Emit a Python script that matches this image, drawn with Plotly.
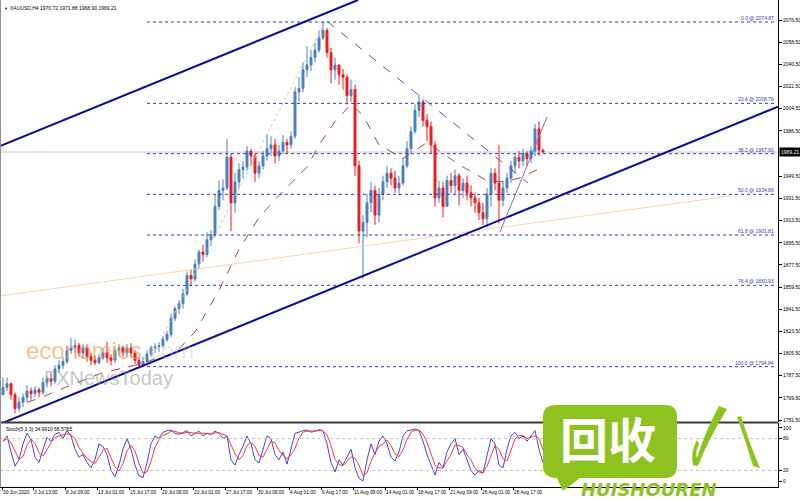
import plotly.graph_objects as go

# ---------------- data ----------------
title_text = "XAUUSD,H4 1970.72 1971.88 1968.90 1969.21"
stoch_text = "Stoch(5,3,3) 34.9910 58.5765"

first_open = 1772
closes = [1778,1781,1772,1761,1766,1770,1775,1773,1776,1774,
          1782,1785,1783,1793,1796,1799,1808,1810,1812,1806,
          1810,1803,1800,1798,1802,1806,1802,1800,1808,1810,
          1806,1810,1806,1800,1796,1799,1805,1810,1811,1812,
          1817,1821,1834,1842,1846,1854,1869,1866,1878,1888,
          1886,1898,1902,1925,1938,1940,1965,1928,1945,1955,
          1957,1970,1966,1952,1958,1966,1972,1975,1966,1970,
          1977,1975,1982,2018,2021,2036,2040,2046,2052,2062,
          2068,2050,2036,2040,2032,2030,2015,2020,1958,1905,
          1912,1928,1938,1918,1935,1945,1952,1948,1940,1944,
          1958,1972,1986,2003,2010,1995,1990,1975,1932,1940,
          1925,1946,1942,1950,1938,1944,1936,1932,1928,1920,
          1915,1935,1952,1944,1930,1940,1948,1958,1965,1962,
          1968,1964,1970,1988,1970.72,1969.21]
highs = [1786,1786,1782,1774,1770,1773,1780,1778,1779,1778,
         1786,1787,1790,1796,1800,1803,1812,1818,1817,1814,
         1813,1813,1806,1804,1805,1810,1815,1805,1811,1813,
         1812,1813,1814,1808,1802,1803,1808,1812,1814,1815,
         1820,1824,1838,1844,1849,1858,1872,1874,1882,1890,
         1894,1904,1906,1935,1946,1947,1980,1968,1952,1960,
         1962,1974,1972,1968,1962,1970,1984,1982,1980,1975,
         1983,1980,1986,2022,2030,2042,2055,2052,2058,2068,
         2075,2070,2054,2046,2040,2037,2032,2028,2024,1962,
         1918,1935,1945,1942,1940,1950,1958,1956,1954,1950,
         1964,1978,1990,2008,2016,2012,2000,1994,1978,1946,
         1945,1950,1952,1955,1952,1948,1950,1942,1936,1932,
         1928,1940,1956,1956,1975,1946,1952,1962,1968,1970,
         1972,1970,1974,1992,1994,1971.88]
lows = [1772,1775,1768,1757,1758,1762,1766,1768,1770,1770,
        1772,1778,1779,1781,1790,1793,1797,1805,1806,1803,
        1801,1799,1796,1796,1797,1800,1798,1796,1798,1804,
        1803,1803,1802,1797,1795,1795,1798,1803,1806,1807,
        1810,1815,1819,1832,1838,1842,1852,1860,1864,1874,
        1880,1884,1893,1900,1922,1930,1938,1905,1920,1940,
        1948,1954,1958,1945,1948,1955,1962,1966,1960,1962,
        1968,1968,1972,1980,2010,2018,2030,2035,2042,2050,
        2060,2046,2025,2028,2024,2020,2008,2010,1950,1895,
        1866,1900,1920,1910,1912,1930,1940,1942,1936,1934,
        1942,1956,1968,1984,1998,1990,1978,1968,1925,1928,
        1916,1925,1936,1935,1926,1932,1930,1925,1920,1914,
        1910,1908,1925,1938,1911,1925,1936,1944,1952,1956,
        1958,1958,1960,1966,1966,1968.90]
opens = [first_open] + closes[:-1]
bars = list(range(len(closes)))

stoch_k = [75,85,55,28,40,70,90,78,45,35,60,82,75,88,92,80,95,85,60,45,
           50,35,25,40,70,65,50,20,8,30,60,80,60,30,10,6,35,70,85,80,
           92,95,96,90,88,92,95,85,90,94,85,90,88,94,90,80,85,40,30,50,
           65,85,70,40,34,60,85,80,50,40,55,32,60,90,92,95,96,92,94,97,
           95,70,35,17,40,30,45,60,25,5,0,40,70,50,75,85,70,45,38,55,
           85,95,96,98,95,75,50,30,11,35,25,55,70,80,50,60,40,20,11,20,
           15,50,80,70,30,25,60,85,92,80,85,75,85,95,60,34.99]
stoch_d = [75,80,72,56,41,46,67,79,71,53,47,59,72,82,85,87,89,87,80,63,
           52,43,37,33,45,58,62,45,26,19,33,57,67,57,33,15,17,37,63,78,
           86,89,94,94,91,90,92,91,90,90,90,90,88,91,91,88,85,68,52,40,
           48,67,73,65,48,45,60,75,72,57,48,42,49,61,81,92,94,94,94,94,
           95,87,67,41,31,29,38,45,43,30,10,15,37,53,65,70,77,67,51,46,
           59,78,92,96,96,89,73,52,30,25,24,38,50,68,67,63,50,40,24,17,
           15,28,48,67,60,42,38,57,79,86,86,80,82,85,80,58.58]

ma_bars = [6, 9, 17, 25, 33, 39, 43, 48, 54, 59, 64, 69, 76, 79, 83, 87, 90, 94, 100, 106, 114, 121, 125, 129, 135]
ma_vals = [1766, 1769, 1780, 1790, 1796, 1802, 1806, 1823, 1857, 1890, 1916, 1934, 1957, 1975, 1994, 2008, 1999, 1975, 1964, 1977, 1959, 1946, 1945, 1948, 1957]

fib_names = ["0.0", "23.6", "38.2", "50.0", "61.8", "76.4", "100.0"]
fib_prices = [2074.87, 2008.76, 1967.90, 1934.86, 1901.81, 1860.93, 1794.84]
fib_anchor_bars = [36, 80.5]          # 100% point bar, 0% point bar
fib_end_bar = 193.25

channel_upper_x = [-0.75, 88.75]
channel_upper_y = [1974.1, 2092.75]
channel_lower_x = [-0.75, 193.75]
channel_lower_y = [1748.2, 2006.1]
desc_line_x = [81, 131.25]
desc_line_y = [2075.4, 1944.1]
rise_line_x = [124.25, 136]
rise_line_y = [1904.3, 1997.7]
long_line_x = [-0.75, 181.75]
long_line_y = [1852.3, 1933.5]

price_ticks = [2076.5, 2058.5, 2040.5, 2022.5, 2004.5, 1986.5, 1949.5, 1931.5, 1913.5,
               1895.5, 1877.5, 1859.5, 1841.5, 1823.5, 1805.5, 1787.5, 1769.5, 1751.5]
stoch_ticks = [100, 80, 20, 0]
stoch_levels = [80, 20]
time_tick_bars = [-0.25, 7.5, 15.5, 23.5, 31.5, 39.5, 47.5, 55.5, 63.5, 71.5, 79.5,
                  87.5, 95.5, 103.5, 111.5, 119.5, 127.5]
time_tick_labels = ["30 Jun 2020", "3 Jul 13:00", "8 Jul 09:00", "13 Jul 01:00", "15 Jul 17:00",
                    "20 Jul 09:00", "23 Jul 01:00", "27 Jul 17:00", "30 Jul 09:00", "4 Aug 01:00",
                    "6 Aug 17:00", "11 Aug 09:00", "14 Aug 01:00", "18 Aug 17:00", "21 Aug 09:00",
                    "26 Aug 01:00", "28 Aug 17:00"]

# ---------------- styles ----------------
BULL = "#4A80C2"
BEAR = "#F21A1A"
NAVY = "#0C0C9A"
FIBC = "#3838B4"
GREEN = "#8DC21F"
FONT = "Liberation Sans"
PW, PH = 778, 487  # plot area size in px


def PX(x):
    return x / PW


def PY(y):
    return (PH - y) / PH


fig = go.Figure()

# background lines
fig.add_trace(go.Scatter(x=long_line_x, y=long_line_y, mode="lines",
                         line=dict(color="#F8D2AE", width=1), hoverinfo="skip", showlegend=False))
for name, p in zip(fib_names, fib_prices):
    fig.add_trace(go.Scatter(x=[fib_anchor_bars[0], fib_end_bar], y=[p, p], mode="lines",
                             line=dict(color=FIBC, width=1, dash="dot"), hoverinfo="skip", showlegend=False))
fig.add_trace(go.Scatter(x=fib_anchor_bars, y=[fib_prices[-1], fib_prices[0]], mode="lines",
                         line=dict(color="#C8C8C8", width=1, dash="dot"), hoverinfo="skip", showlegend=False))
fig.add_trace(go.Scatter(x=ma_bars, y=ma_vals, mode="lines",
                         line=dict(color="#A84848", width=1, dash="dash"), hoverinfo="skip", showlegend=False))

fig.add_trace(go.Candlestick(
    x=bars, open=opens, high=highs, low=lows, close=closes,
    increasing=dict(line=dict(color=BULL, width=1), fillcolor=BULL),
    decreasing=dict(line=dict(color=BEAR, width=1), fillcolor=BEAR),
    whiskerwidth=0, showlegend=False, hoverinfo="skip"))

fig.add_trace(go.Scatter(x=channel_upper_x, y=channel_upper_y, mode="lines",
                         line=dict(color=NAVY, width=2), hoverinfo="skip", showlegend=False))
fig.add_trace(go.Scatter(x=channel_lower_x, y=channel_lower_y, mode="lines",
                         line=dict(color=NAVY, width=2), hoverinfo="skip", showlegend=False))
fig.add_trace(go.Scatter(x=desc_line_x, y=desc_line_y, mode="lines",
                         line=dict(color="#5858A8", width=1, dash="dash"), hoverinfo="skip", showlegend=False))
fig.add_trace(go.Scatter(x=rise_line_x, y=rise_line_y, mode="lines",
                         line=dict(color="#7C6CC4", width=1), hoverinfo="skip", showlegend=False))

# stochastic
fig.add_trace(go.Scatter(x=bars, y=stoch_k, mode="lines", yaxis="y2",
                         line=dict(color="#4646D2", width=1), hoverinfo="skip", showlegend=False))
fig.add_trace(go.Scatter(x=bars, y=stoch_d, mode="lines", yaxis="y2",
                         line=dict(color="#FF3636", width=1), hoverinfo="skip", showlegend=False))

shapes = []
# current price line
shapes.append(dict(type="line", xref="paper", yref="y", x0=0, x1=1, y0=closes[-1], y1=closes[-1],
                   line=dict(color="#C8C8C8", width=1), layer="below"))
for lv in stoch_levels:
    shapes.append(dict(type="line", xref="paper", yref="y2", x0=0, x1=1, y0=lv, y1=lv,
                       line=dict(color="#C0C0C0", width=1, dash="dot")))
# panel separator and left border
shapes.append(dict(type="line", xref="paper", yref="paper", x0=0, x1=1, y0=PY(422.5), y1=PY(422.5),
                   line=dict(color="#3A3A3A", width=2)))
shapes.append(dict(type="line", xref="paper", yref="paper", x0=PX(0.5), x1=PX(0.5), y0=0, y1=1,
                   line=dict(color="#909090", width=1)))


def path(cmds):
    out = []
    for c in cmds:
        if isinstance(c, str):
            out.append(c)
        else:
            out.append(f"{PX(c[0]):.5f},{PY(c[1]):.5f}")
    return " ".join(out)


# logo bubble
bubble = path(["M", (556, 405), "L", (665, 405), "Q", (677, 405), (677, 417), "L", (677, 466),
               "Q", (677, 478), (665, 478), "L", (580, 478), "L", (563, 491), "L", (557, 478),
               "Q", (543, 478), (543, 466), "L", (543, 417), "Q", (543, 405), (556, 405), "Z"])
shapes.append(dict(type="path", xref="paper", yref="paper", path=bubble,
                   fillcolor=GREEN, line=dict(width=0), layer="above"))
# stylised brush character (left and right strokes)
left_stroke = path(["M", (719, 406), "L", (727, 409), "Q", (708, 440), (698, 466), "L", (693, 465),
                    "Q", (690, 452), (697, 440), "L", (699, 444), "Q", (695, 452), (697, 458),
                    "Q", (705, 432), (719, 406), "Z"])
shapes.append(dict(type="path", xref="paper", yref="paper", path=left_stroke,
                   fillcolor=GREEN, line=dict(width=0), layer="above"))
right_stroke = path(["M", (737, 417), "L", (741, 416), "Q", (750, 445), (760, 468), "L", (753, 466),
                     "Q", (746, 442), (737, 417), "Z"])
shapes.append(dict(type="path", xref="paper", yref="paper", path=right_stroke,
                   fillcolor=GREEN, line=dict(width=0), layer="above"))

ann = []
ann.append(dict(xref="paper", yref="paper", x=PX(2), y=PY(8), xanchor="left", yanchor="middle",
                text="\u25bc", showarrow=False, font=dict(size=4, color="#000")))
ann.append(dict(xref="paper", yref="paper", x=PX(8), y=PY(8), xanchor="left", yanchor="middle",
                text=title_text, showarrow=False, font=dict(size=5, color="#000", family=FONT)))
ann.append(dict(xref="paper", yref="paper", x=PX(4), y=PY(429), xanchor="left", yanchor="middle",
                text=stoch_text, showarrow=False, font=dict(size=5, color="#000", family=FONT)))
for name, p in zip(fib_names, fib_prices):
    ann.append(dict(xref="paper", yref="y", x=PX(776), y=p, xanchor="right", yanchor="bottom",
                    text=f"{name} @ {p:.2f}", showarrow=False, yshift=-1,
                    font=dict(size=5, color=FIBC, family=FONT)))
ann.append(dict(xref="paper", yref="y", x=1, y=closes[-1], xanchor="left", yanchor="middle",
                text=f"{closes[-1]:.2f}", showarrow=False, bgcolor="#000", borderpad=1, xshift=1,
                font=dict(size=5, color="#fff", family=FONT)))
# watermarks
ann.append(dict(xref="paper", yref="paper", x=PX(24), y=PY(350), xanchor="left", yanchor="middle",
                text="economies<span style='color:rgba(200,190,180,0.6)'>.com</span>", showarrow=False,
                font=dict(size=24, color="rgba(246,150,70,0.6)", family=FONT)))
ann.append(dict(xref="paper", yref="paper", x=PX(42), y=PY(378), xanchor="left", yanchor="middle",
                text="FXNewsToday", showarrow=False,
                font=dict(size=20, color="rgba(140,140,140,0.5)", family=FONT)))
# logo text
ann.append(dict(xref="paper", yref="paper", x=PX(608), y=PY(437), xanchor="center", yanchor="middle",
                text="<b>回收</b>", showarrow=False,
                font=dict(size=48, color="#FFFFFF", family="Noto Sans CJK SC")))
ann.append(dict(xref="paper", yref="paper", x=PX(649), y=PY(489), xanchor="center", yanchor="middle",
                text="<b><i>HUISHOUREN</i></b>", showarrow=False,
                font=dict(size=18, color=GREEN, family="DejaVu Sans")))

fig.update_layout(
    width=800, height=500,
    margin=dict(l=0, r=22, t=0, b=13),
    paper_bgcolor="#FFFFFF", plot_bgcolor="#FFFFFF",
    font=dict(family=FONT, size=5, color="#000"),
    showlegend=False,
    xaxis=dict(domain=[0, 1], range=[-0.75, 193.75], anchor="y2",
               showline=True, linecolor="#000", linewidth=1, mirror=False,
               ticks="outside", ticklen=2, tickcolor="#000", tickangle=0,
               tickvals=time_tick_bars, ticktext=time_tick_labels,
               ticklabelposition="outside right", tickfont=dict(size=4.8, family=FONT),
               showgrid=False, zeroline=False, rangeslider=dict(visible=False), automargin=False),
    yaxis=dict(domain=[PY(422), 1], range=[1749.875, 2092.75], side="right", anchor="x",
               showline=True, linecolor="#000", linewidth=1,
               ticks="outside", ticklen=3, tickcolor="#000",
               tickvals=price_ticks, ticktext=[f"{v:.2f}" for v in price_ticks],
               tickfont=dict(size=5, family=FONT), showgrid=False, zeroline=False, automargin=False),
    yaxis2=dict(domain=[0, PY(423)], range=[-11.3, 109.4], side="right", anchor="x",
                showline=True, linecolor="#000", linewidth=1,
                ticks="outside", ticklen=3, tickcolor="#000",
                tickvals=stoch_ticks, ticktext=[str(v) for v in stoch_ticks],
                tickfont=dict(size=5, family=FONT), showgrid=False, zeroline=False, automargin=False),
    shapes=shapes,
    annotations=ann,
)

fig.write_html("out.html", config={"displayModeBar": False},
               post_script="document.body.style.margin='0';document.body.style.padding='0';")
